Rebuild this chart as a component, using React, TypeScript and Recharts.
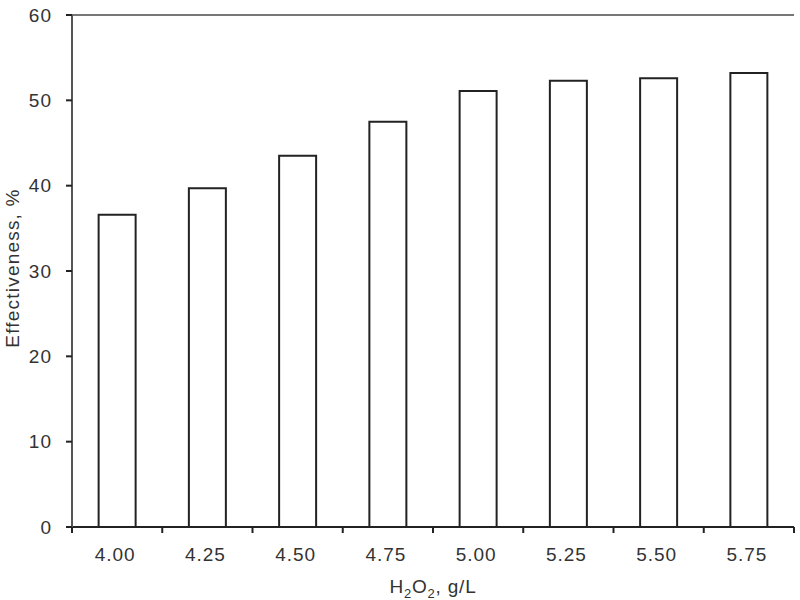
import React from "react";
import { BarChart, Bar, XAxis, YAxis, ReferenceLine, Label } from "recharts";

const doses = ["4.00", "4.25", "4.50", "4.75", "5.00", "5.25", "5.50", "5.75"];
const effectiveness = [36.6, 39.7, 43.5, 47.5, 51.1, 52.3, 52.6, 53.2];
const yTicks = [0, 10, 20, 30, 40, 50, 60];

const data = doses.map((d, i) => ({ dose: d, value: effectiveness[i] }));

const FONT = "'Liberation Sans', Arial, sans-serif";
const BAND = (800 - 72 - 6) / doses.length;

function DoseTick(props: any) {
  const { x, y, payload, index } = props;
  return (
    <g>
      {index === 0 && (
        <line x1={x - BAND / 2} y1={y} x2={x - BAND / 2} y2={y + 6} stroke="#222" strokeWidth={2} />
      )}
      <line x1={x + BAND / 2} y1={y} x2={x + BAND / 2} y2={y + 6} stroke="#222" strokeWidth={2} />
      <text
        x={x - 2}
        y={y + 34}
        textAnchor="middle"
        fontSize={19}
        letterSpacing={1}
        fill="#333"
        fontFamily={FONT}
      >
        {payload.value}
      </text>
    </g>
  );
}

function XTitle(props: any) {
  const { viewBox } = props;
  const cx = viewBox.x + viewBox.width / 2;
  return (
    <text
      x={cx}
      y={593}
      textAnchor="middle"
      fontSize={19}
      letterSpacing={0.8}
      fill="#333"
      fontFamily={FONT}
    >
      H<tspan fontSize={13} dy={5}>2</tspan>
      <tspan dy={-5}>O</tspan>
      <tspan fontSize={13} dy={5}>2</tspan>
      <tspan dy={-5}>, g/L</tspan>
    </text>
  );
}

function YTitle(props: any) {
  const { viewBox } = props;
  const cy = viewBox.y + viewBox.height / 2 - 3;
  return (
    <text
      x={19}
      y={cy}
      transform={`rotate(-90, 19, ${cy})`}
      textAnchor="middle"
      fontSize={19}
      letterSpacing={1.2}
      fill="#333"
      fontFamily={FONT}
    >
      Effectiveness, %
    </text>
  );
}

export default function App() {
  return (
    <div style={{ position: "absolute", left: 0, top: 0, background: "#fff" }}>
      <BarChart
        width={800}
        height={600}
        data={data}
        margin={{ top: 15, right: 6, left: 0, bottom: 0 }}
        barCategoryGap="29.5%"
      >
        <XAxis
          dataKey="dose"
          height={73}
          tickLine={false}
          tickSize={0}
          tickMargin={0}
          axisLine={{ stroke: "#222", strokeWidth: 2 }}
          tick={<DoseTick />}
          interval={0}
        >
          <Label content={<XTitle />} />
        </XAxis>
        <YAxis
          width={72}
          domain={[0, 60]}
          ticks={yTicks}
          interval={0}
          tickSize={6}
          tickMargin={14}
          tickLine={{ stroke: "#222", strokeWidth: 2 }}
          axisLine={{ stroke: "#555", strokeWidth: 2 }}
          tick={{ fontSize: 19, fill: "#333", fontFamily: FONT, letterSpacing: 1 }}
        >
          <Label content={<YTitle />} />
        </YAxis>
        <YAxis
          yAxisId="right"
          orientation="right"
          width={0}
          tick={false}
          tickLine={false}
          axisLine={{ stroke: "#222", strokeWidth: 2 }}
        />
        <ReferenceLine y={60} stroke="#777" strokeWidth={2} />
        <Bar
          dataKey="value"
          fill="#fff"
          stroke="#222"
          strokeWidth={2}
          isAnimationActive={false}
        />
      </BarChart>
    </div>
  );
}
